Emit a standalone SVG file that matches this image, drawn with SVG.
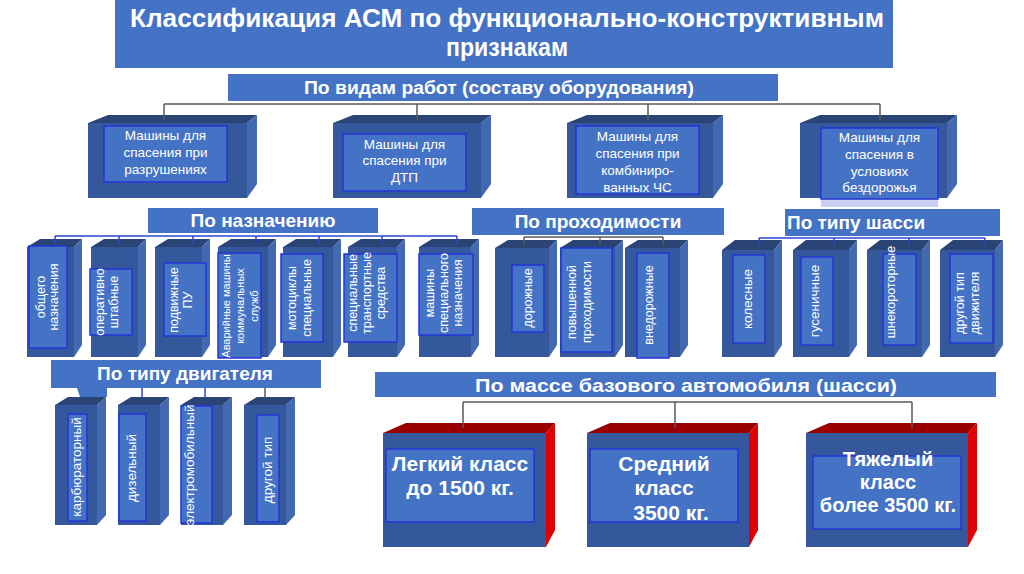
<svg xmlns="http://www.w3.org/2000/svg" width="1024" height="574" viewBox="0 0 1024 574">
<style>
.bg{fill:#ffffff}
.hdr{fill:#4472c4}
.fr{fill:#35579b}
.tp{fill:#2a4476}
.sd{fill:#4369b3}
.rtp{fill:#9a0000}
.rsd{fill:#e00000}
.lab{fill:#4472c4;stroke:#2336d6;stroke-width:1.5}
.t{font-family:"Liberation Sans",Arial,sans-serif;fill:#ffffff}
.b{font-weight:bold}
.h{font-size:19px;font-weight:bold}
.m{font-size:13.5px}
.s{font-size:12.5px}
.xs{font-size:11px}
.e{font-size:13.5px}
.big{font-size:21px;font-weight:bold}
.big2{font-size:20px;font-weight:bold}
.cg{stroke:#595959;stroke-width:1.5;fill:none}
.cb{stroke:#2a46d6;stroke-width:1.5;fill:none}
</style>
<rect class="bg" x="0" y="0" width="1024" height="574"/>

<g id="title">
<rect class="hdr" x="115" y="0" width="778" height="68"/>
<text class="t b" x="507" y="27" font-size="25" text-anchor="middle" textLength="754" lengthAdjust="spacingAndGlyphs">Классификация АСМ по функционально-конструктивным</text>
<text class="t b" x="507" y="56" font-size="25" text-anchor="middle" textLength="122" lengthAdjust="spacingAndGlyphs">признакам</text>
</g>

<g id="h-vidy">
<rect class="hdr" x="228" y="74" width="550" height="27"/>
<text class="t b" x="499" y="94" font-size="18" text-anchor="middle" textLength="390" lengthAdjust="spacingAndGlyphs">По видам работ (составу оборудования)</text>
</g>

<g id="v1">
<polygon class="tp" points="88,123 108,115 257,115 247,123"/>
<rect class="fr" x="88" y="123" width="159" height="75"/>
<polygon class="sd" points="247,123 257,115 257,184 247,198"/>
<rect class="lab" x="104" y="126" width="123" height="56"/>
<text class="t m" text-anchor="middle"><tspan x="165.5" y="140">Машины для</tspan><tspan x="165.5" y="157">спасения при</tspan><tspan x="165.5" y="174">разрушениях</tspan></text>
</g>
<g id="v2">
<polygon class="tp" points="333,123 353,115 491,115 481,123"/>
<rect class="fr" x="333" y="123" width="148" height="75"/>
<polygon class="sd" points="481,123 491,115 491,184 481,198"/>
<rect class="lab" x="343" y="134" width="123" height="57"/>
<text class="t m" text-anchor="middle"><tspan x="404.5" y="149">Машины для</tspan><tspan x="404.5" y="165">спасения при</tspan><tspan x="404.5" y="182">ДТП</tspan></text>
</g>
<g id="v3">
<polygon class="tp" points="567,123 587,115 723,115 713,123"/>
<rect class="fr" x="567" y="123" width="146" height="75"/>
<polygon class="sd" points="713,123 723,115 723,184 713,198"/>
<rect class="lab" x="576" y="126" width="123" height="68"/>
<text class="t m" text-anchor="middle"><tspan x="637.5" y="141">Машины для</tspan><tspan x="637.5" y="158">спасения при</tspan><tspan x="637.5" y="175">комбиниро-</tspan><tspan x="637.5" y="192">ванных ЧС</tspan></text>
</g>
<g id="v4">
<polygon class="tp" points="800,123 820,115 957,115 947,123"/>
<rect class="fr" x="800" y="123" width="147" height="75"/>
<polygon class="sd" points="947,123 957,115 957,184 947,198"/>
<rect x="821" y="199" width="117" height="8" fill="#c8d0f2"/>
<rect class="lab" x="821" y="128" width="117" height="71"/>
<text class="t m" text-anchor="middle"><tspan x="879.5" y="142">Машины для</tspan><tspan x="879.5" y="159">спасения в</tspan><tspan x="879.5" y="176">условиях</tspan><tspan x="879.5" y="192">бездорожья</tspan></text>
</g>

<g id="h-naznach">
<rect class="hdr" x="148" y="208" width="230" height="25"/>
<text class="t h" x="263" y="227" text-anchor="middle">По назначению</text>
</g>
<g id="h-prohod">
<rect class="hdr" x="472" y="208" width="252" height="27"/>
<text class="t h" x="598" y="228" text-anchor="middle">По проходимости</text>
</g>
<g id="h-shassi">
<rect class="hdr" x="785" y="209" width="215" height="27"/>
<text class="t h" x="787" y="229">По типу шасси</text>
</g>

<g id="n1">
<polygon class="tp" points="27,247 40,239 82,239 74,247"/>
<rect class="fr" x="27" y="247" width="47" height="110"/>
<polygon class="sd" points="74,247 82,239 82,345 74,357"/>
<rect class="lab" x="29" y="246" width="38" height="102"/>
<text class="t s" text-anchor="middle" transform="translate(44.5,297) rotate(-90)">общего</text>
<text class="t s" text-anchor="middle" transform="translate(57.5,297) rotate(-90)">назначения</text>
</g>
<g id="n2">
<polygon class="tp" points="91,247 104,239 146,239 138,247"/>
<rect class="fr" x="91" y="247" width="47" height="110"/>
<polygon class="sd" points="138,247 146,239 146,345 138,357"/>
<rect class="lab" x="90" y="269" width="42" height="66"/>
<text class="t s" text-anchor="middle" transform="translate(103.5,302) rotate(-90)">оперативно</text>
<text class="t s" text-anchor="middle" transform="translate(117.5,302) rotate(-90)">штабные</text>
</g>
<g id="n3">
<polygon class="tp" points="155,247 168,239 210,239 202,247"/>
<rect class="fr" x="155" y="247" width="47" height="110"/>
<polygon class="sd" points="202,247 210,239 210,345 202,357"/>
<rect class="lab" x="164" y="263" width="42" height="73"/>
<text class="t s" text-anchor="middle" transform="translate(177.5,300) rotate(-90)">подвижные</text>
<text class="t s" text-anchor="middle" transform="translate(191.5,300) rotate(-90)">ПУ</text>
</g>
<g id="n4">
<polygon class="tp" points="218,247 231,239 276,239 268,247"/>
<rect class="fr" x="218" y="247" width="50" height="110"/>
<polygon class="sd" points="268,247 276,239 276,345 268,357"/>
<rect class="lab" x="218" y="253" width="43" height="105"/>
<text class="t xs" text-anchor="middle" transform="translate(229.5,306) rotate(-90)">Аварийные машины</text>
<text class="t xs" text-anchor="middle" transform="translate(244,306) rotate(-90)">коммунальных</text>
<text class="t xs" text-anchor="middle" transform="translate(258,306) rotate(-90)">служб</text>
</g>
<g id="n5">
<polygon class="tp" points="283,247 296,239 341,239 333,247"/>
<rect class="fr" x="283" y="247" width="50" height="110"/>
<polygon class="sd" points="333,247 341,239 341,345 333,357"/>
<rect class="lab" x="281" y="254" width="42" height="88"/>
<text class="t s" text-anchor="middle" transform="translate(295.5,298) rotate(-90)">мотоциклы</text>
<text class="t s" text-anchor="middle" transform="translate(310.5,298) rotate(-90)">специальные</text>
</g>
<g id="n6">
<polygon class="tp" points="348,247 361,239 405,239 397,247"/>
<rect class="fr" x="348" y="247" width="49" height="110"/>
<polygon class="sd" points="397,247 405,239 405,345 397,357"/>
<rect class="lab" x="344" y="254" width="53" height="88"/>
<text class="t s" text-anchor="middle" transform="translate(356.5,293) rotate(-90)">специальные</text>
<text class="t s" text-anchor="middle" transform="translate(370.5,293) rotate(-90)">транспортные</text>
<text class="t s" text-anchor="middle" transform="translate(384.5,293) rotate(-90)">средства</text>
</g>
<g id="n7">
<polygon class="tp" points="419,247 432,239 479,239 471,247"/>
<rect class="fr" x="419" y="247" width="52" height="110"/>
<polygon class="sd" points="471,247 479,239 479,345 471,357"/>
<rect class="lab" x="419" y="254" width="54" height="81"/>
<text class="t s" text-anchor="middle" transform="translate(433.5,293) rotate(-90)">машины</text>
<text class="t s" text-anchor="middle" transform="translate(447.5,293) rotate(-90)">специального</text>
<text class="t s" text-anchor="middle" transform="translate(461.5,293) rotate(-90)">назначения</text>
</g>

<g id="p1">
<polygon class="tp" points="495,248 508,240 557,240 549,248"/>
<rect class="fr" x="495" y="248" width="54" height="109"/>
<polygon class="sd" points="549,248 557,240 557,345 549,357"/>
<rect class="lab" x="512" y="265" width="32" height="67"/>
<text class="t s" text-anchor="middle" transform="translate(531.5,298) rotate(-90)">дорожные</text>
</g>
<g id="p2">
<polygon class="tp" points="560,248 573,240 623,240 615,248"/>
<rect class="fr" x="560" y="248" width="55" height="109"/>
<polygon class="sd" points="615,248 623,240 623,345 615,357"/>
<rect class="lab" x="561" y="248" width="51" height="104"/>
<text class="t s" text-anchor="middle" transform="translate(575.5,302) rotate(-90)">повышенной</text>
<text class="t s" text-anchor="middle" transform="translate(590.5,302) rotate(-90)">проходимости</text>
</g>
<g id="p3">
<polygon class="tp" points="625,248 638,240 688,240 680,248"/>
<rect class="fr" x="625" y="248" width="55" height="109"/>
<polygon class="sd" points="680,248 688,240 688,345 680,357"/>
<rect class="lab" x="637" y="253" width="32" height="105"/>
<text class="t s" text-anchor="middle" transform="translate(652.5,305) rotate(-90)">внедорожные</text>
</g>

<g id="s1">
<polygon class="tp" points="722,250 735,240 782,240 774,250"/>
<rect class="fr" x="722" y="250" width="52" height="107"/>
<polygon class="sd" points="774,250 782,240 782,345 774,357"/>
<rect class="lab" x="733" y="255" width="32" height="88"/>
<text class="t e" text-anchor="middle" transform="translate(751.5,299) rotate(-90)">колесные</text>
</g>
<g id="s2">
<polygon class="tp" points="793,250 806,240 857,240 849,250"/>
<rect class="fr" x="793" y="250" width="56" height="107"/>
<polygon class="sd" points="849,250 857,240 857,345 849,357"/>
<rect class="lab" x="801" y="257" width="32" height="88"/>
<text class="t e" text-anchor="middle" transform="translate(818.5,301) rotate(-90)">гусеничные</text>
</g>
<g id="s3">
<polygon class="tp" points="867,250 880,240 930,240 922,250"/>
<rect class="fr" x="867" y="250" width="55" height="107"/>
<polygon class="sd" points="922,250 930,240 930,345 922,357"/>
<rect class="lab" x="883" y="254" width="33" height="91"/>
<text class="t s" text-anchor="middle" transform="translate(894.5,292) rotate(-90)">шнекороторные</text>
</g>
<g id="s4">
<polygon class="tp" points="940,250 953,240 1003,240 995,250"/>
<rect class="fr" x="940" y="250" width="55" height="107"/>
<polygon class="sd" points="995,250 1003,240 1003,345 995,357"/>
<rect class="lab" x="950" y="254" width="43" height="89"/>
<text class="t s" text-anchor="middle" transform="translate(963.5,303) rotate(-90)">другой тип</text>
<text class="t s" text-anchor="middle" transform="translate(978.5,303) rotate(-90)">движителя</text>
</g>

<g id="h-dvig">
<rect class="hdr" x="51" y="360" width="270" height="28"/>
<polygon class="hdr" points="77,388 107,388 107,397 80,397"/>
<text class="t h" x="185" y="380" text-anchor="middle">По типу двигателя</text>
</g>
<g id="d1">
<polygon class="tp" points="55,405 68,397 106,397 97,405"/>
<rect class="fr" x="55" y="405" width="42" height="120"/>
<polygon class="sd" points="97,405 106,397 106,515 97,525"/>
<rect class="lab" x="68" y="414" width="19" height="107"/>
<text class="t e" text-anchor="middle" transform="translate(81,467) rotate(-90)">карбюраторный</text>
</g>
<g id="d2">
<polygon class="tp" points="118,405 131,397 169,397 160,405"/>
<rect class="fr" x="118" y="405" width="42" height="120"/>
<polygon class="sd" points="160,405 169,397 169,515 160,525"/>
<rect class="lab" x="119" y="414" width="27" height="107"/>
<text class="t e" text-anchor="middle" transform="translate(136,468) rotate(-90)">дизельный</text>
</g>
<g id="d3">
<polygon class="tp" points="181,405 194,397 232,397 223,405"/>
<rect class="fr" x="181" y="405" width="42" height="120"/>
<polygon class="sd" points="223,405 232,397 232,515 223,525"/>
<rect class="lab" x="181" y="406" width="31" height="117"/>
<text class="t e" text-anchor="middle" transform="translate(194,465) rotate(-90)">электромобильный</text>
</g>
<g id="d4">
<polygon class="tp" points="244,405 257,397 295,397 286,405"/>
<rect class="fr" x="244" y="405" width="42" height="120"/>
<polygon class="sd" points="286,405 295,397 295,515 286,525"/>
<rect class="lab" x="257" y="415" width="22" height="107"/>
<text class="t e" text-anchor="middle" transform="translate(272,470) rotate(-90)">другой тип</text>
</g>

<g id="h-massa">
<rect class="hdr" x="375" y="372" width="621" height="25"/>
<text class="t b" x="686" y="392" font-size="19" text-anchor="middle" textLength="422" lengthAdjust="spacingAndGlyphs">По массе базового автомобиля (шасси)</text>
</g>
<g id="m1">
<polygon class="rtp" points="383,433 406,423 555,423 546,433"/>
<rect class="fr" x="383" y="433" width="163" height="114"/>
<polygon class="rsd" points="546,433 555,423 555,530 546,547"/>
<rect class="lab" x="386" y="449" width="148" height="73"/>
<text class="t big" text-anchor="middle"><tspan x="460" y="471">Легкий класс</tspan><tspan x="460" y="495">до 1500 кг.</tspan></text>
</g>
<g id="m2">
<polygon class="rtp" points="587,433 610,423 758,423 749,433"/>
<rect class="fr" x="587" y="433" width="162" height="114"/>
<polygon class="rsd" points="749,433 758,423 758,530 749,547"/>
<rect class="lab" x="590" y="449" width="148" height="73"/>
<text class="t big" text-anchor="middle"><tspan x="664" y="471">Средний</tspan><tspan x="664" y="495">класс</tspan><tspan x="671" y="520">3500 кг.</tspan></text>
</g>
<g id="m3">
<polygon class="rtp" points="806,433 829,423 977,423 968,433"/>
<rect class="fr" x="806" y="433" width="162" height="114"/>
<polygon class="rsd" points="968,433 977,423 977,530 968,547"/>
<rect class="lab" x="813" y="456" width="148" height="73"/>
<text class="t big2" text-anchor="middle"><tspan x="888" y="466">Тяжелый</tspan><tspan x="888" y="489">класс</tspan><tspan x="888" y="512">более 3500 кг.</tspan></text>
</g>

<g id="connectors">
<path class="cg" d="M164,104 H880 M164,104 V120 M417,104 V120 M648,104 V120 M880,104 V120"/>
<path class="cb" d="M55,236 H457 M55,236 V244 M119,236 V244 M193,236 V244 M256,236 V244 M319,236 V244 M382,236 V244 M457,236 V244"/>
<path class="cg" d="M524,237 H663 M524,237 V245 M600,237 V245 M663,237 V245"/>
<path class="cb" d="M759,238 H985 M759,238 V246 M834,238 V246 M909,238 V246 M985,238 V246"/>
<path class="cb" d="M142,388 V398 M205,388 V398"/>
<path class="cg" d="M265,388 V398"/>
<path class="cg" d="M463,402 H912 M463,402 V428 M675,402 V428 M912,402 V428"/>
</g>
</svg>
